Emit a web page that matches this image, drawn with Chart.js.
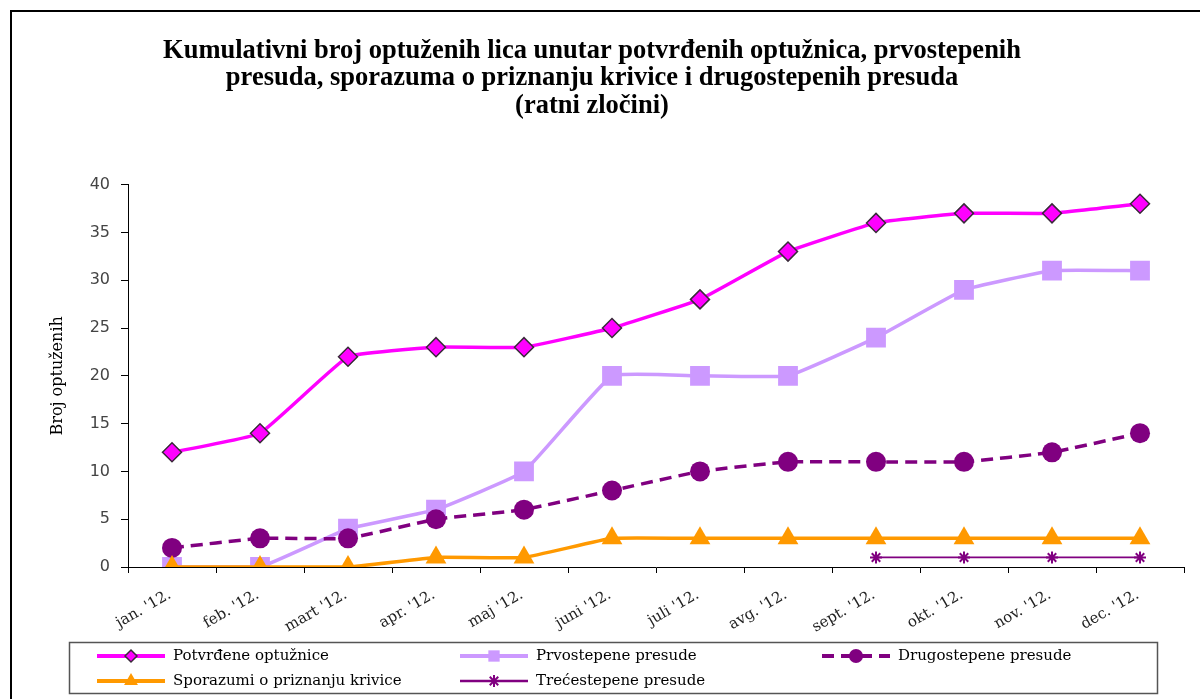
<!DOCTYPE html>
<html>
<head>
<meta charset="utf-8">
<script src="https://cdn.jsdelivr.net/npm/chart.js@4.4.0/dist/chart.umd.min.js"></script>
<style>
  html, body { margin: 0; padding: 0; background: #fff; }
  #wrap { width: 1200px; height: 699px; position: relative; }
</style>
</head>
<body>
<div id="wrap"><canvas id="chart" width="1200" height="699"></canvas></div>
<script>
const months = ["jan. '12.", "feb. '12.", "mart '12.", "apr. '12.", "maj '12.", "juni '12.",
  "juli '12.", "avg. '12.", "sept. '12.", "okt. '12.", "nov. '12.", "dec. '12."];
const potvrdene = [12, 14, 22, 23, 23, 25, 28, 33, 36, 37, 37, 38];
const prvostepene = [0, 0, 4, 6, 10, 20, 20, 20, 24, 29, 31, 31];
const drugostepene = [2, 3, 3, 5, 6, 8, 10, 11, 11, 11, 12, 14];
const sporazumi = [0, 0, 0, 1, 1, 3, 3, 3, 3, 3, 3, 3];
const trecestepene = [null, null, null, null, null, null, null, null, 1, 1, 1, 1];
const yTicks = [0, 5, 10, 15, 20, 25, 30, 35, 40];

const titleLines = [
  "Kumulativni broj optuženih lica unutar potvrđenih optužnica, prvostepenih",
  "presuda, sporazuma o priznanju krivice i drugostepenih presuda",
  "(ratni zločini)"
];

const serif = "'DejaVu Serif', 'Liberation Serif', serif";

// where each legend entry sits inside the box (line start x, row y)
const legendSlots = [[97, 656], [460, 656], [822, 656], [97, 681], [460, 681]];
const legendRadius = [6, 8, 7, 8, 6];

const frameAndLegend = {
  id: "frameAndLegend",
  beforeDraw(chart) {
    const ctx = chart.ctx;
    ctx.save();
    ctx.fillStyle = "#fff";
    ctx.fillRect(0, 0, chart.width, chart.height);
    ctx.strokeStyle = "#000";
    ctx.lineWidth = 2;
    ctx.strokeRect(11, 11, 1200, 700);
    ctx.restore();
  },
  afterDraw(chart) {
    const ctx = chart.ctx;
    ctx.save();
    ctx.strokeStyle = "#555";
    ctx.lineWidth = 1.5;
    ctx.strokeRect(69.5, 642.5, 1088, 51);

    chart.data.datasets.forEach((ds, i) => {
      const [x, y] = legendSlots[i];
      ctx.save();
      ctx.strokeStyle = ds.borderColor;
      ctx.lineWidth = ds.borderWidth + 0.5;
      ctx.setLineDash(ds.borderDash || []);
      ctx.beginPath();
      ctx.moveTo(x, y);
      ctx.lineTo(x + 68, y);
      ctx.stroke();
      ctx.setLineDash([]);
      ctx.fillStyle = ds.pointBackgroundColor;
      ctx.strokeStyle = ds.pointBorderColor;
      ctx.lineWidth = ds.pointBorderWidth;
      Chart.helpers.drawPoint(ctx, {
        pointStyle: ds.pointStyle,
        radius: legendRadius[i],
        borderWidth: ds.pointBorderWidth,
        rotation: 0
      }, x + 34, y);
      ctx.restore();

      ctx.fillStyle = "#000";
      ctx.font = "15px " + serif;
      ctx.textBaseline = "middle";
      ctx.fillText(ds.label, x + 76, y);
    });
    ctx.restore();
  }
};

const ctx = document.getElementById("chart").getContext("2d");

new Chart(ctx, {
  type: "line",
  data: {
    labels: months,
    datasets: [
      {
        label: "Potvrđene optužnice",
        data: potvrdene,
        borderColor: "#ff00ff",
        borderWidth: 3.5,
        pointStyle: "rectRot",
        pointRadius: 9.5,
        pointBackgroundColor: "#ff00ff",
        pointBorderColor: "#3a2a3a",
        pointBorderWidth: 1.5,
        order: 4
      },
      {
        label: "Prvostepene presude",
        data: prvostepene,
        borderColor: "#cc99ff",
        borderWidth: 3.5,
        pointStyle: "rect",
        pointRadius: 14,
        pointBackgroundColor: "#cc99ff",
        pointBorderColor: "#cc99ff",
        pointBorderWidth: 0,
        order: 3
      },
      {
        label: "Drugostepene presude",
        data: drugostepene,
        borderColor: "#800080",
        borderWidth: 3.5,
        borderDash: [12, 7],
        pointStyle: "circle",
        pointRadius: 10,
        pointBackgroundColor: "#800080",
        pointBorderColor: "#800080",
        pointBorderWidth: 0,
        order: 2
      },
      {
        label: "Sporazumi o priznanju krivice",
        data: sporazumi,
        borderColor: "#ff9900",
        borderWidth: 3.5,
        pointStyle: "triangle",
        pointRadius: 12,
        pointBackgroundColor: "#ff9900",
        pointBorderColor: "#ff9900",
        pointBorderWidth: 0,
        order: 1
      },
      {
        label: "Trećestepene presude",
        data: trecestepene,
        borderColor: "#800080",
        borderWidth: 1.8,
        pointStyle: "star",
        pointRadius: 6,
        pointBackgroundColor: "#800080",
        pointBorderColor: "#800080",
        pointBorderWidth: 2,
        order: 0
      }
    ]
  },
  options: {
    responsive: false,
    animation: false,
    layout: { padding: { left: 0, right: 16, top: 0, bottom: 0 } },
    elements: { line: { tension: 0.1 } },
    plugins: {
      legend: { display: false },
      tooltip: { enabled: false },
      title: {
        display: true,
        text: titleLines,
        color: "#000",
        font: { family: "'Liberation Serif', 'Times New Roman', serif", size: 26.5, weight: "bold", lineHeight: 1.04 },
        padding: { top: 37, bottom: 65 }
      }
    },
    scales: {
      x: {
        offset: true,
        grid: { display: true, offset: true, drawOnChartArea: false, drawTicks: true, tickLength: 6, color: "#000" },
        border: { display: true, color: "#000", width: 1 },
        ticks: {
          maxRotation: 30,
          minRotation: 30,
          padding: 13,
          labelOffset: -2,
          color: "#222",
          font: { family: serif, size: 15 }
        },
        afterFit(scale) { scale.height = 132; }
      },
      y: {
        min: 0,
        max: 40,
        afterBuildTicks(scale) { scale.ticks = yTicks.map((v) => ({ value: v })); },
        grid: { display: true, drawOnChartArea: false, drawTicks: true, tickLength: 7, color: "#000" },
        border: { display: true, color: "#000", width: 1 },
        ticks: {
          padding: 11,
          color: "#444",
          font: { family: "'DejaVu Sans', Verdana, sans-serif", size: 16 }
        },
        title: {
          display: true,
          text: "Broj optuženih",
          color: "#000",
          font: { family: serif, size: 16 },
          padding: { top: 48, bottom: 0 }
        },
        afterFit(scale) { scale.width = 128; }
      }
    }
  },
  plugins: [frameAndLegend]
});
</script>
</body>
</html>
